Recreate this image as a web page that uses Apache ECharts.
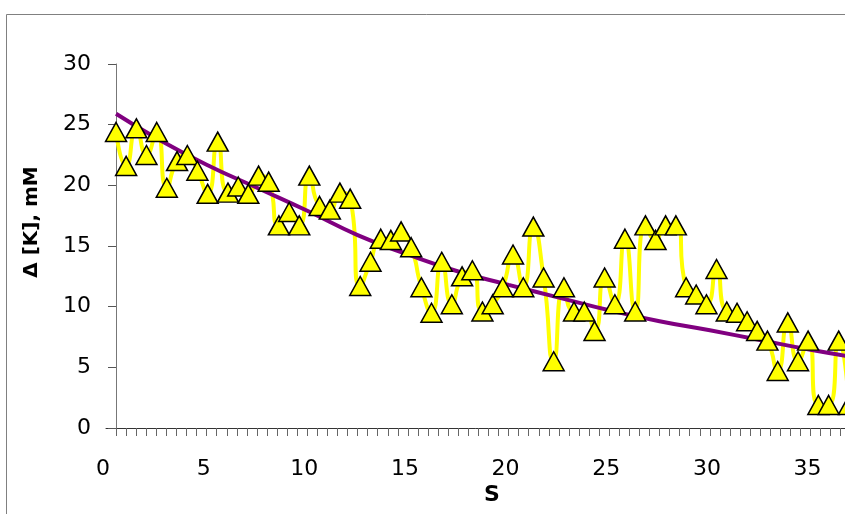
<!DOCTYPE html>
<html>
<head>
<meta charset="utf-8">
<script src="https://cdn.jsdelivr.net/npm/echarts@6/dist/echarts.min.js"></script>
<style>
  html, body { margin: 0; padding: 0; background: #ffffff; }
  #chart { width: 845px; height: 514px; }
</style>
</head>
<body>
<div id="chart"></div>
<script>
// Measured S positions of each sample
const sValues = [
  0.50, 1.00, 1.51, 2.01, 2.52, 3.02, 3.53, 4.04, 4.54, 5.05,
  5.55, 6.06, 6.57, 7.07, 7.58, 8.08, 8.59, 9.10, 9.60, 10.10,
  10.61, 11.12, 11.62, 12.13, 12.63, 13.14, 13.65, 14.15, 14.66, 15.16,
  15.67, 16.17, 16.68, 17.18, 17.69, 18.20, 18.70, 19.21, 19.71, 20.22,
  20.73, 21.23, 21.74, 22.24, 22.75, 23.25, 23.76, 24.27, 24.77, 25.28,
  25.78, 26.29, 26.80, 27.30, 27.80, 28.31, 28.82, 29.32, 29.83, 30.33,
  30.84, 31.35, 31.85, 32.35, 32.86, 33.37, 33.87, 34.38, 34.88, 35.39,
  35.90, 36.40, 36.91
];

// Δ[K] in mM for each sample
const deltaK = [
  24.4, 21.6, 24.7, 22.5, 24.4, 19.8, 22.0, 22.5, 21.2, 19.3,
  23.6, 19.4, 19.9, 19.3, 20.8, 20.3, 16.7, 17.8, 16.7, 20.8,
  18.3, 18.0, 19.4, 18.9, 11.7, 13.7, 15.6, 15.5, 16.2, 14.9,
  11.6, 9.5, 13.7, 10.2, 12.5, 13.0, 9.6, 10.2, 11.6, 14.3,
  11.6, 16.6, 12.4, 5.5, 11.6, 9.6, 9.6, 8.0, 12.4, 10.2,
  15.6, 9.6, 16.7, 15.5, 16.7, 16.7, 11.6, 11.0, 10.2, 13.1,
  9.6, 9.5, 8.8, 8.0, 7.2, 4.7, 8.7, 5.5, 7.2, 1.9,
  1.9, 7.2, 1.9
];

// Trend curve
const trendS = [0.5, 2.5, 5, 7.5, 10, 12.5, 15, 17.5, 20, 22.5, 25, 27.5, 30, 32.5, 35, 37.5];
const trendK = [25.9, 23.9, 21.7, 19.8, 17.9, 15.9, 14.3, 12.9, 11.8, 10.75, 9.7, 8.8, 8.05, 7.25, 6.45, 5.75];

// Axis ticks and labels
const xLabelValues = [0, 5, 10, 15, 20, 25, 30, 35];
const xTickStep = 0.5;
const yMin = 0, yMax = 30, yStep = 5;

const xTickValues = [];
for (let v = xTickStep; v <= 38.5 + 1e-9; v += xTickStep) xTickValues.push(+v.toFixed(2));

const points = sValues.map((s, i) => [s, deltaK[i]]);
const trend = trendS.map((s, i) => [s, trendK[i]]);

const chart = echarts.init(document.getElementById('chart'), null, { renderer: 'canvas' });

chart.setOption({
  animation: false,
  backgroundColor: '#ffffff',
  // plot area runs past the right edge of the page
  grid: { left: 106, width: 779, top: 64, bottom: 86, containLabel: false, outerBoundsMode: 'none' },
  xAxis: {
    type: 'value',
    min: 0,
    max: 38.7,
    splitLine: { show: false },
    axisLine: { show: true, lineStyle: { color: '#333333', width: 1 } },
    axisTick: { show: true, inside: false, length: 8, customValues: xTickValues,
                lineStyle: { color: '#666666', width: 1 } },
    axisLabel: {
      customValues: xLabelValues,
      margin: 30,
      padding: [0, 6, 0, 0],
      fontFamily: 'DejaVu Sans',
      fontSize: 22,
      color: '#000000'
    }
  },
  yAxis: {
    type: 'value',
    min: yMin,
    max: yMax,
    interval: yStep,
    offset: -10,
    splitLine: { show: false },
    axisLine: { show: true, lineStyle: { color: '#777777', width: 1 } },
    axisTick: { show: true, inside: false, length: 8, lineStyle: { color: '#555555', width: 1 } },
    axisLabel: {
      margin: 25,
      fontFamily: 'DejaVu Sans',
      fontSize: 22,
      color: '#000000'
    }
  },
  graphic: [
    {
      type: 'rect',
      shape: { x: 6.5, y: 14.5, width: 900, height: 600 },
      style: { fill: 'none', stroke: '#808080', lineWidth: 1 },
      silent: true
    },
    {
      type: 'text',
      x: 32, y: 222,
      rotation: Math.PI / 2,
      style: {
        text: 'Δ [K], mM',
        x: 0, y: 0,
        align: 'center', verticalAlign: 'middle',
        font: 'bold 20px "DejaVu Sans"',
        fill: '#000000'
      },
      silent: true
    },
    {
      type: 'text',
      x: 492, y: 495,
      style: {
        text: 'S',
        x: 0, y: 0,
        align: 'center', verticalAlign: 'middle',
        font: 'bold 22px "DejaVu Sans"',
        fill: '#000000'
      },
      silent: true
    }
  ],
  series: [
    {
      type: 'line',
      data: points,
      smooth: 0.6,
      showSymbol: false,
      symbol: 'none',
      lineStyle: { color: '#FFFF00', width: 4 },
      z: 1
    },
    {
      type: 'line',
      data: trend,
      smooth: true,
      showSymbol: false,
      symbol: 'none',
      lineStyle: { color: '#800080', width: 4 },
      z: 2
    },
    {
      type: 'scatter',
      data: points,
      symbol: 'triangle',
      symbolSize: [21, 19],
      itemStyle: { color: '#FFFF00', borderColor: '#000000', borderWidth: 1.5, opacity: 1 },
      z: 3
    }
  ]
});
</script>
</body>
</html>
